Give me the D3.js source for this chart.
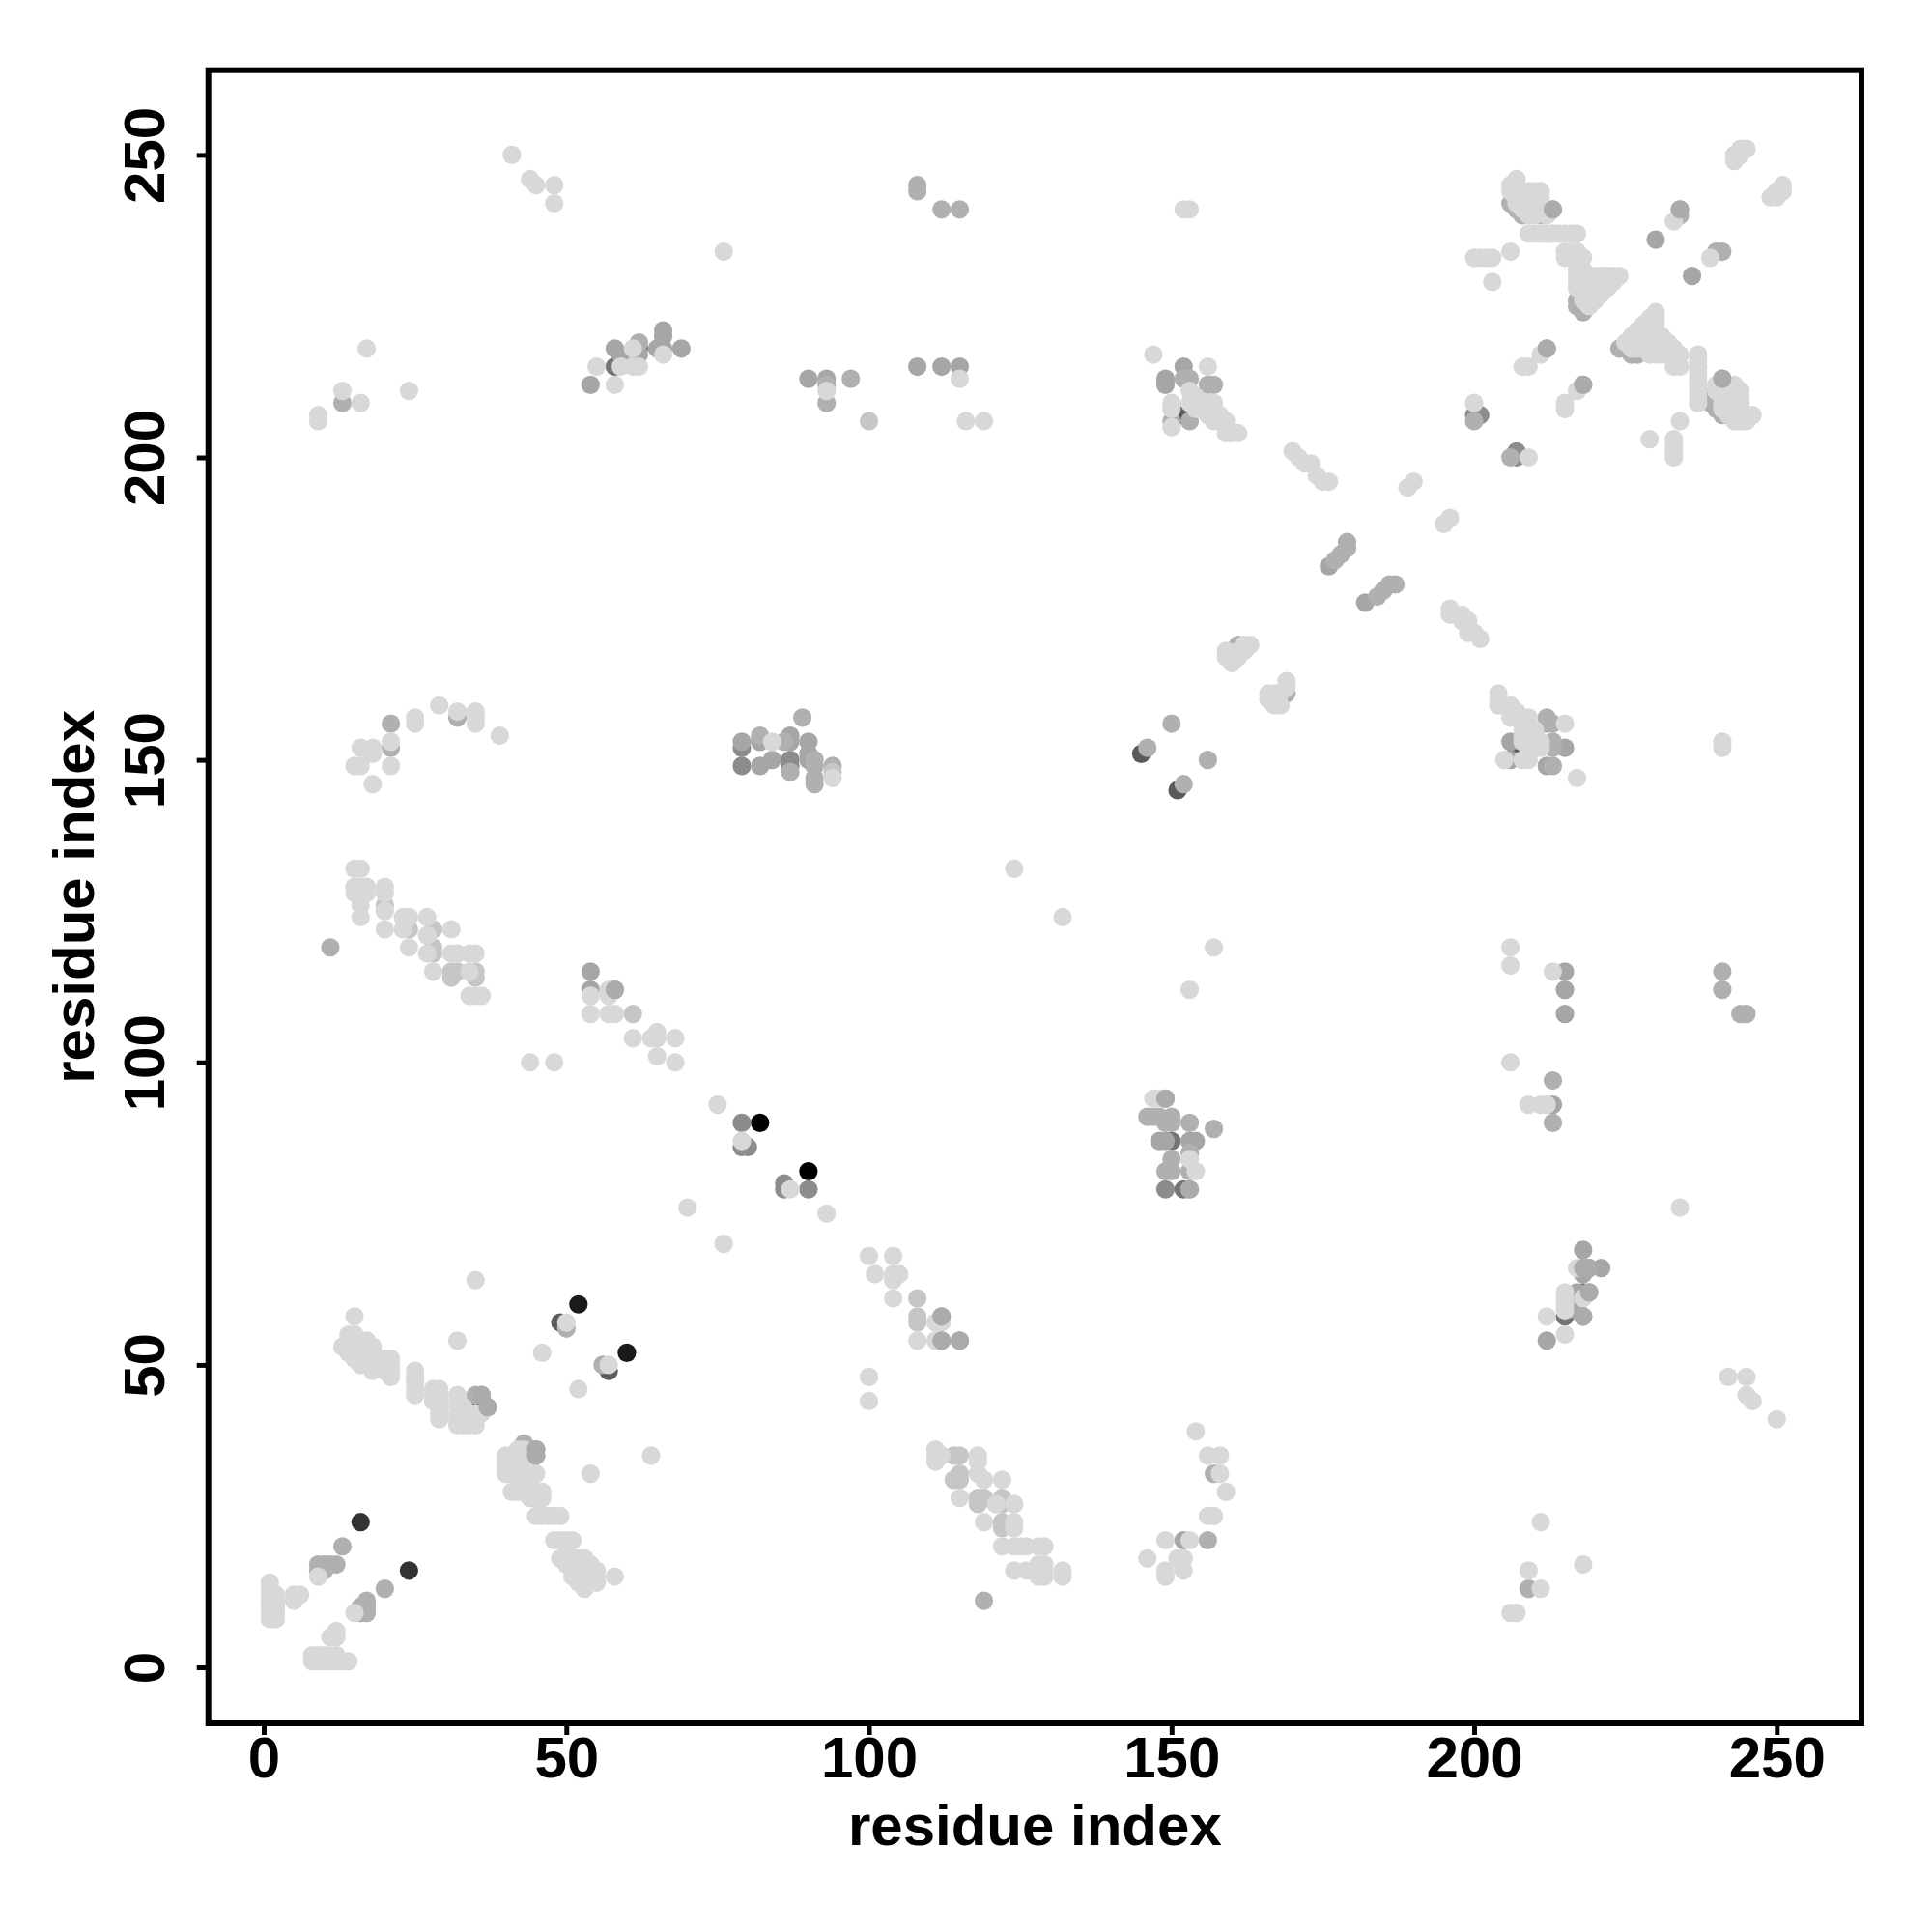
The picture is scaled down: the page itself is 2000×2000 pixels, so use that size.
<!DOCTYPE html>
<html><head><meta charset="utf-8">
<script src="https://cdn.jsdelivr.net/npm/d3@7"></script>
<style>html,body{margin:0;padding:0;background:#fff}svg{display:block}</style>
</head><body><svg id="c" width="2000" height="2000"></svg>
<script>
const tickValues=[0,50,100,150,200,250];
const axisTitle="residue index";
const xDomain=[-9.15,264.0], yDomain=[-9.26,264];
const shades=["#000000","#1a1a1a","#333333","#5a5a5a","#757575","#8c8c8c","#a6a6a6","#b0b0b0","#c6c6c6","#d8d8d8","#ababab"];
const contacts000=[[82,90],[90,82]];
const contacts1a=[[52,60],[60,52]];
const contacts33=[[16,24],[24,16]];
const contacts5a=[[49,57],[57,49],[34,43],[35,43],[44,36],[44,35],[145,151],[151,145],[207,152],[152,207]];
const contacts75=[[218,62],[215,58],[58,215],[62,218],[150,87],[152,79]];
const contacts8c=[[79,90],[79,86],[80,86],[86,80],[86,79],[90,79],[149,79],[87,150],[79,152],[79,149],[87,149],[200,207],[201,207],[207,201],[207,200]];
const contactsA6=[[54,115],[54,112],[58,112],[217,62],[219,62],[218,66],[219,66],[218,65],[221,66],[218,69],[217,59],[218,58],[212,54],[149,87],[153,87],[154,87],[148,87],[79,153],[87,154],[87,153],[90,153],[82,153],[82,149],[84,150],[90,150],[90,151],[54,212],[58,218],[59,217],[62,217],[65,218],[66,221],[66,220],[66,218],[69,218],[90,213],[93,213],[108,215],[112,215],[115,215],[149,213],[149,212],[152,215],[206,153],[206,150],[212,149],[215,152],[230,236],[236,230],[215,115],[215,112],[215,108],[213,93],[176,182],[182,176],[152,21]];
const contactsB0=[[13,20],[20,13],[9,17],[10,17],[11,17],[12,17],[9,16],[10,16],[16,9],[17,9],[16,10],[17,10],[17,11],[50,56],[56,50],[35,45],[36,45],[37,43],[33,43],[43,37],[45,36],[45,35],[43,35],[11,119],[119,11],[112,58],[112,54],[115,54],[157,32],[156,21],[209,13],[150,156],[146,152],[156,150],[152,146],[161,169],[160,168],[169,161],[168,160],[212,157],[212,156],[213,156],[213,153],[213,152],[213,149],[21,156],[21,152],[32,157],[146,91],[147,91],[148,91],[149,90],[150,91],[150,90],[153,90],[149,94],[157,89],[150,84],[153,85],[149,82],[150,82],[153,82],[153,79],[86,153],[82,154],[87,148],[89,157],[91,150],[91,149],[91,147],[91,146],[94,149],[93,212],[93,209],[97,213],[62,219],[177,183],[178,184],[179,185],[179,186],[184,177],[185,178],[186,179],[187,179],[153,213],[152,213],[156,212],[157,212],[150,206],[153,206],[200,206],[206,200],[213,241],[207,241],[208,240],[211,240],[206,242],[217,226],[217,225],[218,224],[234,241],[234,240],[240,234],[241,234],[212,218],[218,212],[224,218],[226,217],[227,217],[239,210],[239,209],[240,208],[241,207],[241,213],[108,245],[108,244],[112,241],[115,241],[13,209],[241,115],[241,112],[244,108],[245,108],[213,97],[213,90]];
const contactsC6=[[20,126],[108,61],[108,58],[108,57],[114,35],[115,35],[114,31],[115,32],[115,31],[118,27],[118,28],[119,28],[122,28],[122,27],[122,24],[122,23],[35,115],[35,114],[28,122],[24,122],[61,108],[100,206],[94,148],[31,115],[31,114],[28,118],[28,119],[32,115]];
const contactsD8=[[50,57],[57,50],[46,52],[52,46],[35,64],[32,54],[64,35],[54,32],[58,15],[70,76],[76,70],[9,15],[15,9],[1,8],[1,9],[1,10],[1,11],[1,12],[1,13],[1,14],[2,8],[2,9],[2,10],[2,11],[2,12],[5,11],[5,12],[6,12],[12,6],[11,5],[12,5],[8,2],[9,2],[10,2],[11,2],[12,2],[8,1],[9,1],[10,1],[11,1],[12,1],[13,1],[14,1],[15,58],[14,55],[15,55],[13,53],[14,52],[14,53],[14,54],[15,51],[15,52],[15,53],[15,54],[16,50],[16,51],[16,52],[16,53],[16,54],[17,50],[17,51],[17,52],[17,53],[17,54],[18,49],[18,50],[18,51],[18,52],[18,53],[20,49],[20,50],[20,51],[21,48],[21,49],[21,50],[21,51],[25,45],[25,46],[25,47],[25,48],[25,49],[28,44],[28,45],[28,46],[29,41],[29,42],[29,43],[29,44],[29,45],[29,46],[32,40],[32,41],[32,42],[32,43],[32,44],[32,45],[33,40],[33,41],[33,42],[33,43],[34,40],[34,41],[35,40],[35,41],[35,42],[36,42],[40,32],[40,33],[40,34],[40,35],[41,32],[41,33],[41,34],[41,35],[42,32],[42,33],[42,34],[42,35],[42,36],[43,32],[43,33],[43,34],[43,36],[44,32],[44,33],[45,32],[41,29],[42,29],[43,29],[44,29],[45,29],[46,29],[44,28],[45,28],[46,28],[45,25],[46,25],[47,25],[48,25],[49,25],[48,21],[49,21],[50,21],[51,21],[49,18],[50,18],[51,18],[52,18],[53,18],[50,19],[50,17],[51,17],[52,17],[53,17],[54,17],[51,16],[52,16],[53,16],[54,16],[55,16],[51,15],[52,15],[53,15],[54,15],[55,15],[52,14],[53,14],[54,14],[55,14],[53,13],[104,68],[100,68],[101,65],[104,65],[104,64],[105,65],[104,61],[108,54],[111,57],[112,57],[111,54],[100,48],[100,44],[111,36],[111,34],[111,35],[112,35],[118,35],[118,34],[118,32],[119,31],[122,31],[115,28],[121,27],[124,27],[119,24],[124,24],[124,23],[122,20],[124,20],[125,20],[126,20],[128,20],[129,20],[124,16],[126,16],[128,17],[129,17],[128,16],[129,16],[128,15],[129,15],[132,16],[132,15],[154,39],[156,35],[158,35],[158,32],[159,29],[156,25],[157,25],[149,21],[153,21],[146,18],[151,18],[152,18],[149,16],[149,15],[152,16],[217,66],[215,62],[215,61],[215,60],[215,59],[218,61],[212,58],[215,55],[234,76],[242,48],[245,48],[245,45],[246,44],[250,41],[211,24],[209,16],[211,13],[218,17],[206,9],[207,9],[15,132],[16,132],[15,129],[15,128],[16,129],[16,128],[17,129],[17,128],[16,126],[16,124],[20,129],[20,128],[20,125],[20,122],[23,124],[24,124],[23,122],[27,124],[27,121],[24,119],[31,122],[27,118],[31,118],[32,118],[34,118],[35,118],[34,115],[34,111],[35,111],[36,111],[28,115],[54,111],[57,112],[57,111],[54,108],[57,108],[58,108],[61,104],[64,104],[65,105],[65,104],[68,104],[65,101],[68,100],[44,100],[48,100],[75,93],[93,75],[79,87],[87,79],[147,94],[148,94],[153,84],[154,82],[163,169],[162,169],[162,168],[161,168],[160,167],[161,167],[159,167],[159,168],[160,166],[169,163],[169,162],[168,161],[167,161],[166,161],[166,160],[167,160],[167,159],[168,159],[204,161],[204,160],[204,159],[206,159],[206,158],[207,158],[206,157],[207,157],[208,157],[209,157],[208,156],[209,156],[208,155],[209,155],[210,155],[208,154],[209,154],[210,154],[208,153],[209,153],[210,153],[211,153],[209,152],[210,152],[211,152],[215,156],[205,150],[208,150],[209,150],[217,147],[196,175],[196,174],[198,174],[198,173],[199,173],[199,172],[199,171],[200,171],[201,170],[170,201],[171,200],[172,199],[173,199],[174,197],[175,196],[176,196],[189,195],[190,196],[195,189],[196,190],[147,217],[156,215],[150,209],[150,208],[150,205],[153,211],[154,210],[153,209],[154,209],[155,209],[156,209],[157,209],[154,208],[155,208],[156,208],[157,208],[156,207],[157,207],[158,207],[157,206],[158,206],[159,206],[159,204],[160,204],[161,204],[200,209],[207,246],[206,245],[206,244],[207,245],[207,244],[207,243],[207,242],[208,244],[208,243],[208,242],[208,241],[209,244],[209,243],[209,242],[209,241],[209,240],[210,244],[210,243],[210,242],[210,241],[210,240],[211,244],[211,243],[211,242],[211,241],[212,240],[209,237],[210,237],[211,237],[212,237],[213,237],[214,237],[215,237],[216,237],[217,237],[200,233],[201,233],[202,233],[203,233],[206,234],[203,229],[215,234],[215,233],[216,234],[216,233],[217,234],[217,233],[218,233],[217,231],[218,231],[217,230],[218,230],[217,229],[217,228],[218,228],[219,230],[220,230],[221,230],[222,230],[223,230],[224,230],[219,229],[220,229],[221,229],[222,229],[223,229],[219,228],[220,228],[221,228],[222,228],[219,227],[220,227],[221,227],[219,226],[220,226],[218,226],[218,227],[219,225],[233,239],[239,233],[243,250],[243,249],[244,251],[245,251],[244,250],[249,243],[250,244],[251,245],[251,244],[250,243],[211,217],[208,215],[209,215],[217,211],[215,209],[215,208],[209,200],[229,203],[234,206],[233,203],[233,202],[233,201],[233,200],[230,224],[230,223],[229,223],[228,222],[229,222],[230,222],[227,221],[228,221],[229,221],[230,221],[226,220],[227,220],[228,220],[229,220],[230,220],[231,220],[225,219],[226,219],[227,219],[228,219],[230,219],[231,219],[232,219],[226,218],[227,218],[228,218],[229,218],[230,218],[231,218],[232,218],[233,218],[229,217],[230,217],[231,217],[232,217],[233,217],[234,217],[233,215],[234,215],[237,217],[237,216],[237,215],[237,214],[237,213],[237,212],[237,211],[237,210],[237,209],[240,212],[241,211],[241,210],[241,209],[241,208],[242,211],[242,210],[242,209],[242,208],[242,207],[243,212],[243,211],[243,210],[243,209],[243,208],[243,207],[243,206],[244,211],[244,210],[244,209],[244,208],[244,207],[244,206],[245,207],[246,207],[245,206],[240,211],[29,159],[32,158],[35,158],[35,157],[35,156],[25,157],[25,156],[21,153],[21,149],[18,152],[18,151],[16,152],[15,149],[16,149],[18,146],[39,154],[84,153],[94,147],[58,212],[55,215],[59,215],[61,218],[61,215],[62,215],[66,217],[93,211],[115,213],[116,206],[119,206],[41,250],[44,246],[45,245],[48,245],[48,242],[76,234],[152,241],[153,241],[17,218],[13,211],[16,209],[24,211],[9,206],[9,207],[241,153],[241,152],[124,132],[132,124],[157,119],[153,112],[206,119],[206,116],[213,115],[206,100],[209,93],[211,93],[212,93]];
const contactsTop=[[112,58],[112,54],[115,54],[149,94],[218,66],[219,66],[219,62],[218,58],[58,112],[153,79],[241,213],[213,241],[234,241],[212,218],[218,212],[45,36],[45,35],[36,45],[37,43]];
const series=[contacts000,contacts1a,contacts33,contacts5a,contacts75,contacts8c,contactsA6,contactsB0,contactsC6,contactsD8,contactsTop];

const svg=d3.select("#c");
const left=215.7,right=1927,top_=72.7,bottom=1784;
const x=d3.scaleLinear().domain(xDomain).range([left,right]);
const y=d3.scaleLinear().domain(yDomain).range([bottom,top_]);

series.forEach((pts,i)=>{
  svg.append("g").selectAll("circle").data(pts).join("circle")
    .attr("cx",d=>x(d[0])).attr("cy",d=>y(d[1])).attr("r",9.6).attr("fill",shades[i]);
});

const font='"Liberation Sans",Arial,sans-serif';
svg.append("rect").attr("x",left).attr("y",top_).attr("width",right-left).attr("height",bottom-top_)
  .attr("fill","none").attr("stroke","#000").attr("stroke-width",6);

const gx=svg.append("g").attr("transform",`translate(0,${bottom})`)
  .call(d3.axisBottom(x).tickValues(tickValues).tickSize(12).tickSizeOuter(0).tickPadding(12));
const gy=svg.append("g").attr("transform",`translate(${left},0)`)
  .call(d3.axisLeft(y).tickValues(tickValues).tickSize(12).tickSizeOuter(0));
[gx,gy].forEach(g=>{
  g.select(".domain").remove();
  g.selectAll(".tick line").attr("stroke","#000").attr("stroke-width",5);
  g.selectAll("text").attr("fill","#000").style("font-family",font).style("font-weight","700").style("font-size","60px");
});
gx.selectAll("text").attr("dy",null).attr("y",null).attr("dominant-baseline",null)
  .attr("transform",null).attr("y",56);
gy.selectAll("text").attr("x",null).attr("dy",null).attr("text-anchor","middle")
  .attr("transform","translate(-45.7,0) rotate(-90)");

svg.append("text").attr("x",(left+right)/2).attr("y",1910).attr("text-anchor","middle")
  .style("font-family",font).style("font-weight","700").style("font-size","60px").text(axisTitle);
svg.append("text").attr("transform",`translate(97,${(top_+bottom)/2}) rotate(-90)`).attr("text-anchor","middle")
  .style("font-family",font).style("font-weight","700").style("font-size","60px").text(axisTitle);
</script></body></html>
